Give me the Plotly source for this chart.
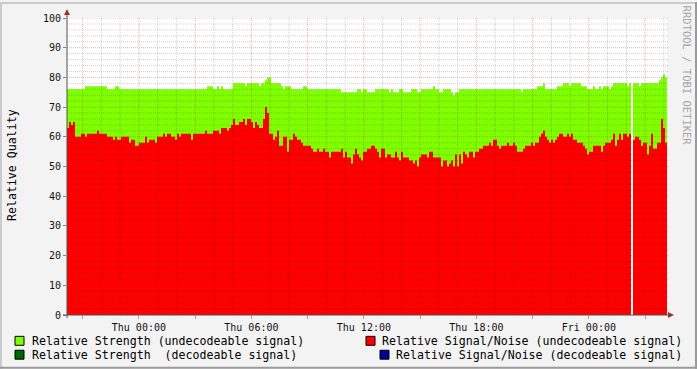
import numpy as np
import plotly.graph_objects as go

# ---------------- data ----------------
START = "2009-01-14T20:10"           # Wed 20:10, left edge of the graph
SPAN_HOURS = 32
N = 300                               # samples across the graph

strength_undecodeable = [
    76,76,76,76,76,76,76,76,76,77, 77,77,77,77,77,77,77,77,77,77,
    76,76,76,76,77,77,76,76,76,76, 76,76,76,76,76,76,76,76,76,76,
    76,76,76,76,76,76,76,76,76,76, 76,76,76,76,76,76,76,76,76,76,
    76,76,76,76,76,76,76,76,76,76, 77,77,77,76,76,77,76,77,76,76,
    76,76,76,78,78,78,78,78,78,77, 78,78,78,78,78,78,77,78,78,79,
    80,80,78,78,78,78,78,77,76,77, 77,77,76,76,76,76,76,76,77,77,
    76,76,76,76,76,76,76,76,76,76, 76,76,76,76,76,76,76,75,75,75,
    75,75,75,75,75,76,76,75,76,76, 75,75,75,75,76,76,76,76,76,76,
    76,75,76,75,75,75,76,76,75,75, 75,75,76,76,76,75,75,76,76,76,
    76,76,76,77,76,76,75,75,76,76, 76,76,75,74,75,75,76,76,76,76,
    76,76,76,76,76,76,76,76,76,76, 76,76,76,76,76,76,76,76,76,76,
    76,76,76,76,76,76,76,75,76,76, 76,76,76,76,76,77,77,77,78,76,
    76,76,76,76,76,77,77,77,78,78, 78,77,78,78,78,78,78,77,77,77,
    76,76,76,77,76,76,77,76,77,77, 77,76,77,78,78,78,78,78,78,78,
    77,78,None,78,78,78,77,78,78,78, 78,78,78,78,78,78,79,80,81,80,
]

signal_noise_undecodeable = [
    63,65,64,65,60,60,60,61,61,60, 61,61,61,61,61,62,61,61,61,61,
    60,60,60,59,60,59,59,60,60,60, 60,58,59,59,57,57,58,58,58,60,
    58,59,59,59,58,60,60,60,61,60, 61,61,60,60,59,61,60,61,61,61,
    61,61,59,61,61,61,61,61,61,62, 61,61,61,62,62,62,61,63,63,63,
    62,63,64,66,64,64,65,65,66,64, 66,66,65,63,65,64,63,63,66,70,
    68,61,61,59,60,62,57,57,60,60, 55,59,59,61,60,59,59,58,57,57,
    57,57,56,55,55,56,55,55,56,55, 55,53,55,55,55,55,55,56,53,55,
    53,53,51,54,56,54,53,52,55,55, 56,56,57,57,56,55,53,56,56,53,
    54,54,53,53,55,53,52,55,53,53, 53,52,52,51,52,50,53,54,54,54,
    53,55,55,53,53,53,53,50,52,52, 50,51,52,50,54,50,54,51,55,54,
    53,55,55,53,55,55,56,56,57,57, 57,58,57,59,59,57,56,57,57,57,
    58,57,57,58,57,55,55,55,56,57, 57,57,58,57,58,58,60,61,62,60,
    59,58,59,58,59,60,61,61,60,60, 61,60,61,59,59,58,58,58,57,56,
    54,55,55,57,57,57,57,55,57,58, 58,58,59,61,57,59,61,59,61,61,
    60,61,None,59,60,60,59,57,58,58, 54,57,61,56,56,58,58,66,63,58,
]

x_tick_vals = ["2009-01-14 21:00", "2009-01-15 00:00", "2009-01-15 03:00",
               "2009-01-15 06:00", "2009-01-15 09:00", "2009-01-15 12:00",
               "2009-01-15 15:00", "2009-01-15 18:00", "2009-01-15 21:00",
               "2009-01-16 00:00", "2009-01-16 03:00"]
x_tick_text = ["", "Thu 00:00", "", "Thu 06:00", "", "Thu 12:00",
               "", "Thu 18:00", "", "Fri 00:00", ""]
y_tick_vals = [0, 10, 20, 30, 40, 50, 60, 70, 80, 90, 100]

legend_labels = [
    "Relative Strength (undecodeable signal)",
    "Relative Strength\u00a0 (decodeable signal)",
    "Relative Signal/Noise (undecodeable signal)",
    "Relative Signal/Noise (decodeable signal)",
]
legend_colors = ["#80FF00", "#006600", "#FF0000", "#000099"]

# ---------------- layout constants (pixels) ----------------
W, H = 697, 369
L, R, T, B = 67, 667, 16, 315          # plot area
PW, PH = R - L, B - T

def px(x):  # pixel x -> paper
    return (x - L) / PW

def py(y):  # pixel y -> paper
    return (B - y) / PH

FONT = "DejaVu Sans Mono"

start = np.datetime64(START)
step = np.timedelta64(int(SPAN_HOURS * 3600 / N), "s")
times = start + np.arange(N + 1) * step
end = start + np.timedelta64(SPAN_HOURS, "h")


def runs(vals):
    """Split a series at missing samples into contiguous step segments."""
    out, i = [], 0
    while i < len(vals):
        if vals[i] is None:
            i += 1
            continue
        j = i
        while j < len(vals) and vals[j] is not None:
            j += 1
        out.append((times[i:j + 1], list(vals[i:j]) + [vals[j - 1]]))
        i = j
    return out


fig = go.Figure()
for vals, col, name in [(strength_undecodeable, "#80FF00", legend_labels[0]),
                        (signal_noise_undecodeable, "#FF0000", legend_labels[2])]:
    for xs, ys in runs(vals):
        fig.add_trace(go.Scatter(
            x=xs, y=ys, mode="lines",
            line=dict(shape="hv", width=0, color=col),
            fill="tozeroy", fillcolor=col, name=name, hoverinfo="skip"))

shapes = []
# grid (drawn above the areas, like rrdtool)
MINOR = "rgba(0,0,0,0.18)"
MAJOR = "rgba(200,0,0,0.3)"
for v in range(2, 101, 2):
    shapes.append(dict(type="line", xref="paper", yref="y", x0=0, x1=px(R + 2),
                       y0=v, y1=v, layer="above",
                       line=dict(color=MAJOR if v % 10 == 0 else MINOR,
                                 width=1, dash="1px,1px")))
hours = np.arange(np.datetime64("2009-01-14T21:00"), end, np.timedelta64(1, "h"))
for hh in hours:
    is_major = (hh.astype("datetime64[h]").astype(int) % 3) == 0
    shapes.append(dict(type="line", xref="x", yref="paper", x0=hh, x1=hh,
                       y0=0, y1=1, layer="above",
                       line=dict(color=MAJOR if is_major else MINOR,
                                 width=1, dash="1px,1px")))
# axis lines and arrows
AX = "#505050"
ARROW = "#993333"
shapes.append(dict(type="line", xref="paper", yref="paper", x0=px(67), x1=px(67),
                   y0=py(318), y1=py(12), line=dict(color=AX, width=1), layer="above"))
shapes.append(dict(type="line", xref="paper", yref="paper", x0=px(63), x1=px(670),
                   y0=py(315), y1=py(315), line=dict(color=AX, width=1), layer="above"))
shapes.append(dict(type="path", xref="paper", yref="paper", layer="above",
                   path=f"M {px(64)} {py(13)} L {px(70)} {py(13)} L {px(67)} {py(7)} Z",
                   fillcolor=ARROW, line=dict(width=0)))
shapes.append(dict(type="path", xref="paper", yref="paper", layer="above",
                   path=f"M {px(668)} {py(312)} L {px(668)} {py(318)} L {px(674)} {py(315)} Z",
                   fillcolor=ARROW, line=dict(width=0)))
# frame shading
shapes += [
    dict(type="rect", xref="paper", yref="paper", x0=px(0), x1=px(W), y0=py(0), y1=py(2),
         fillcolor="#CBCBCB", line=dict(width=0)),
    dict(type="rect", xref="paper", yref="paper", x0=px(0), x1=px(2), y0=py(0), y1=py(H),
         fillcolor="#CBCBCB", line=dict(width=0)),
    dict(type="rect", xref="paper", yref="paper", x0=px(0), x1=px(W), y0=py(H - 2), y1=py(H),
         fillcolor="#9A9A9A", line=dict(width=0)),
    dict(type="rect", xref="paper", yref="paper", x0=px(W - 2), x1=px(W), y0=py(0), y1=py(H),
         fillcolor="#9A9A9A", line=dict(width=0)),
]

annotations = []
# legend (2 x 2, rrdtool style)
legend_pos = [  # (square x, text x, center y)
    (15, 30, 341), (15, 30, 355), (366, 380, 341), (380, 394, 355)
]
for (sx, tx, cy), lab, col in zip(legend_pos, legend_labels, legend_colors):
    shapes.append(dict(type="rect", xref="paper", yref="paper",
                       x0=px(sx), x1=px(sx + 9), y0=py(cy - 4.5), y1=py(cy + 4.5),
                       fillcolor=col, line=dict(color="#000000", width=1)))
    annotations.append(dict(text=lab, xref="paper", yref="paper", x=px(tx), y=py(cy),
                            xanchor="left", yanchor="middle", showarrow=False,
                            font=dict(family=FONT, size=11.6, color="#000000")))
annotations.append(dict(text="Relative Quality", xref="paper", yref="paper",
                        x=px(12), y=py(164), textangle=-90, showarrow=False,
                        xanchor="center", yanchor="middle",
                        font=dict(family=FONT, size=11.6, color="#000000")))
annotations.append(dict(text="RRDTOOL / TOBI OETIKER", xref="paper", yref="paper",
                        x=px(687), y=py(74), textangle=90, showarrow=False,
                        xanchor="center", yanchor="middle",
                        font=dict(family=FONT, size=10.5, color="#A6A6A6")))

fig.update_layout(
    width=W, height=H, autosize=False,
    margin=dict(l=L, r=W - R, t=T, b=H - B, pad=0),
    paper_bgcolor="#F3F3F3", plot_bgcolor="#FFFFFF",
    showlegend=False, shapes=shapes, annotations=annotations,
    xaxis=dict(type="date", range=[start, end], tickmode="array",
               tickvals=x_tick_vals, ticktext=x_tick_text,
               showgrid=False, zeroline=False, showline=False,
               ticks="outside", ticklen=3, tickcolor="rgba(220,60,60,0.6)",
               tickfont=dict(family=FONT, size=10, color="#111111")),
    yaxis=dict(range=[0, 100], tickmode="array", tickvals=y_tick_vals,
               showgrid=False, zeroline=False, showline=False,
               ticks="outside", ticklen=3, tickcolor="#808080",
               tickfont=dict(family=FONT, size=10, color="#111111")),
)

fig.write_html("out.html")
